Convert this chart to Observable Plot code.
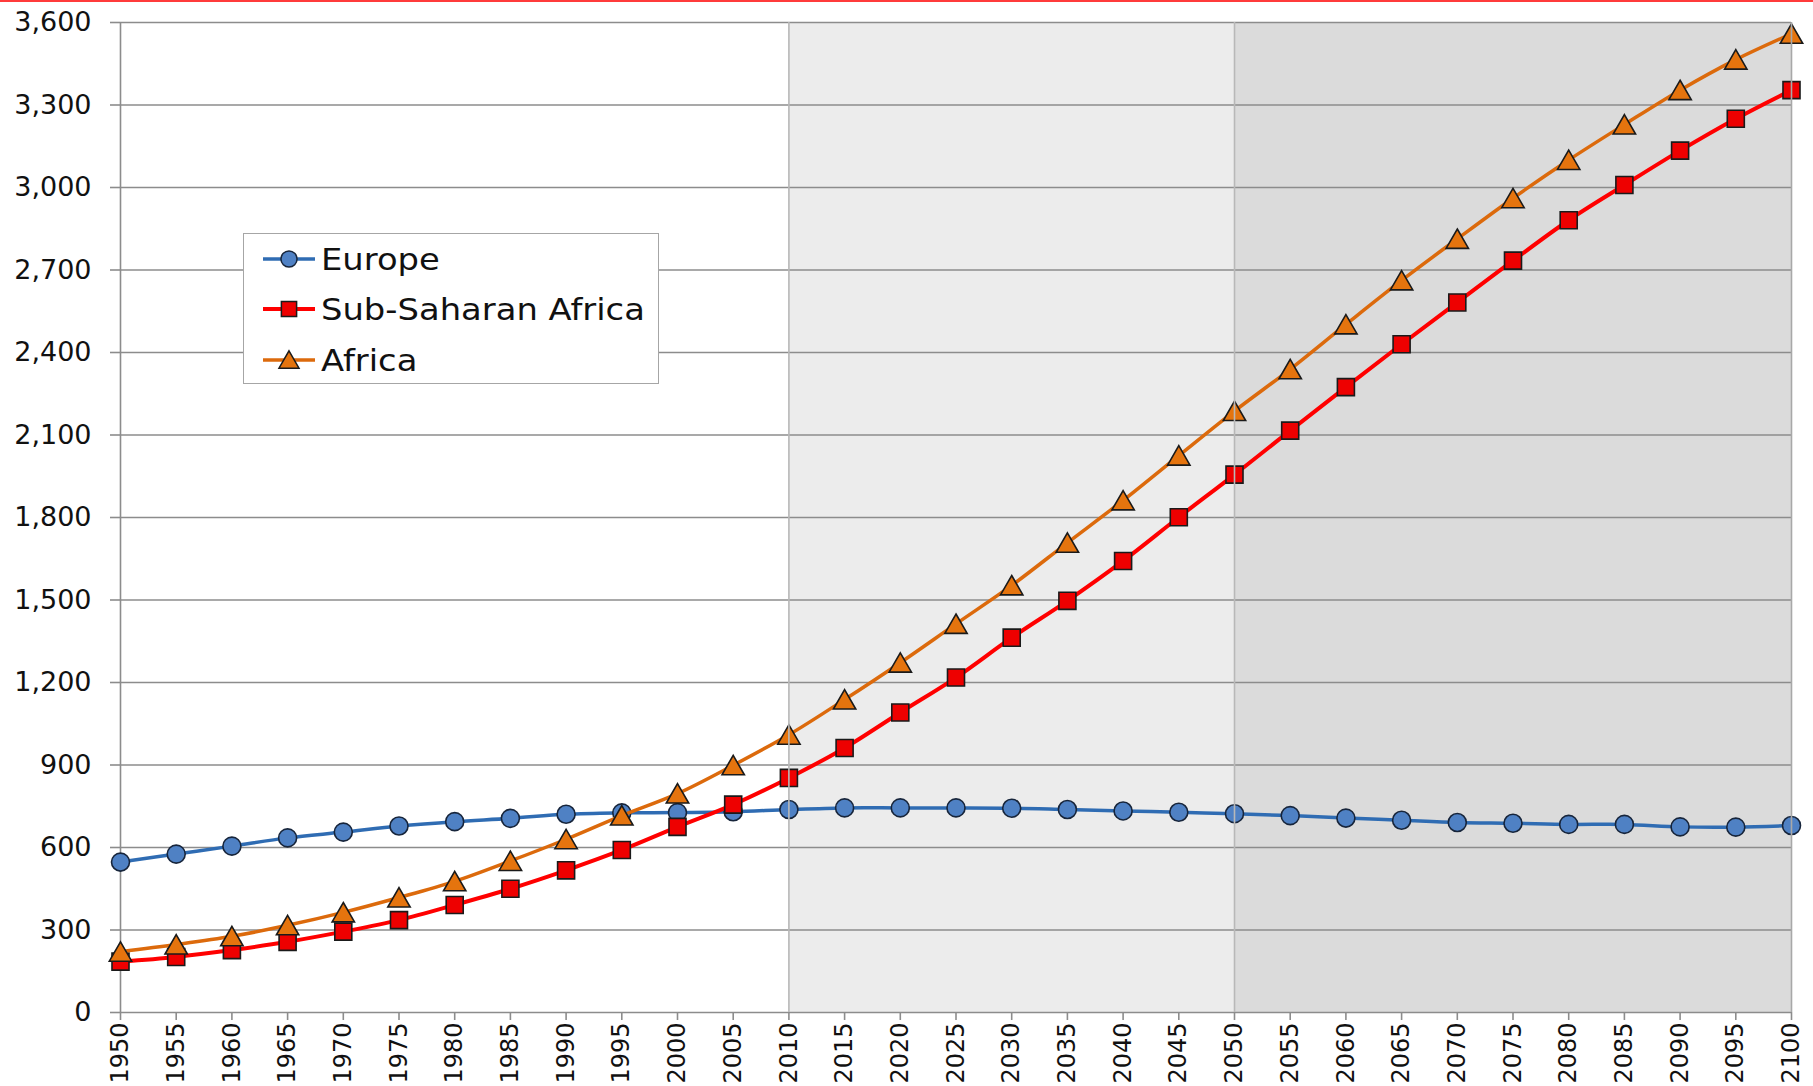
<!DOCTYPE html>
<html>
<head>
<meta charset="utf-8">
<script src="https://cdn.jsdelivr.net/npm/d3@7"></script>
<script src="https://cdn.jsdelivr.net/npm/@observablehq/plot@0.6"></script>
<style>
  html, body { margin: 0; padding: 0; background: #fff; }
  #wrap { position: relative; width: 1813px; height: 1086px; overflow: hidden; background: #fff; }
  #topline { position: absolute; left: 0; top: 0; width: 1813px; height: 2px; background: #ff3b3b; }
  #legend { position: absolute; left: 243px; top: 233px; width: 416px; height: 151px;
            border: 1.5px solid #a6a6a6; background: #fff; font-family: "DejaVu Sans", sans-serif;
            font-size: 31px; color: #111; box-sizing: border-box; }
  .lg-row { position: absolute; left: 0; height: 40px; display: flex; align-items: center; }
  .lg-row svg { display: block; margin-left: 17px; }
  .lg-row span { margin-left: 4px; white-space: nowrap; display: inline-block;
                 transform: scaleX(1.09); transform-origin: left center; }
</style>
</head>
<body>
<div id="wrap">
  <div id="chart"></div>
  <div id="legend"></div>
  <div id="topline"></div>
</div>
<script>
// ---- Data (millions) ----
const years = [1950,1955,1960,1965,1970,1975,1980,1985,1990,1995,2000,2005,2010,2015,2020,2025,2030,2035,2040,2045,2050,2055,2060,2065,2070,2075,2080,2085,2090,2095,2100];
const europe = [547,576,605,635,656,678,694,706,721,726,727,730,738,744,744,744,743,738,733,728,723,716,707,699,691,688,684,684,675,674,680];
const subSaharanAfrica = [185,202,227,257,294,336,391,450,517,591,675,756,853,962,1091,1218,1363,1497,1642,1801,1956,2116,2274,2430,2582,2734,2881,3009,3134,3250,3354];
const africa = [221,247,277,317,364,418,477,551,630,716,796,899,1010,1138,1272,1413,1553,1708,1862,2025,2187,2339,2502,2662,2813,2961,3100,3229,3354,3465,3559];
const seriesNames = ["Europe", "Sub-Saharan Africa", "Africa"];
const yTicks = [0,300,600,900,1200,1500,1800,2100,2400,2700,3000,3300,3600];
const xTicks = years;
const periods = [[2010, 2050], [2050, 2100]];

// ---- Styles ----
const styles = {
  "Europe":             {line: "#2f6cb3", fill: "#4f81c4", stroke: "#17253b", symbol: "circle",   r: 9,   lw: 3.5, dy: 0},
  "Sub-Saharan Africa": {line: "#ff0000", fill: "#ee0000", stroke: "#1a1a1a", symbol: "square",   r: 9.6, lw: 4,   dy: 0},
  "Africa":             {line: "#dc6a0c", fill: "#e5740e", stroke: "#1a1a1a", symbol: "triangle", r: 8.3, lw: 3.5, dy: 3}
};
const periodFill = ["#ececec", "#dbdbdb"];

const valuesBySeries = {"Europe": europe, "Sub-Saharan Africa": subSaharanAfrica, "Africa": africa};
const rows = seriesNames.flatMap(s => years.map((year, i) => ({year, value: valuesBySeries[s][i], series: s})));

const marks = [
  Plot.rect(periods, {x1: d => d[0], x2: d => d[1], fill: (d, i) => periodFill[i]}),
  Plot.ruleY(yTicks, {stroke: "#8c8c8c", strokeWidth: 1.6}),
  Plot.axisY(yTicks, {tickSize: 10, tickPadding: 19, tickFormat: d3.format(","), fontSize: 27,
                      stroke: "#8c8c8c", strokeWidth: 1.6, color: "#111", label: null}),
  Plot.axisX(xTicks, {tickSize: 8, tickPadding: 2, tickRotate: -90, tickFormat: d => String(d),
                      fontSize: 24, stroke: "#8c8c8c", strokeWidth: 1.6, color: "#111", label: null}),
  Plot.ruleX([years[0]], {stroke: "#8c8c8c", strokeWidth: 1.6})
];
for (const s of seriesNames) {
  const st = styles[s];
  const data = rows.filter(d => d.series === s);
  marks.push(Plot.line(data, {x: "year", y: "value", stroke: st.line, strokeWidth: st.lw, curve: "catmull-rom"}));
  marks.push(Plot.dot(data, {x: "year", y: "value", symbol: st.symbol, r: st.r, fill: st.fill,
                             stroke: st.stroke, strokeWidth: 1.6, dy: st.dy}));
}
marks.push(Plot.ruleX(periods.map(p => p[0]), {stroke: "#b8b8b8", strokeWidth: 1.6}));
marks.push(Plot.ruleX([years[years.length - 1]], {stroke: "#a8a8a8", strokeWidth: 1.6}));

const chart = Plot.plot({
  width: 1813,
  height: 1086,
  marginLeft: 120,
  marginRight: 22,
  marginTop: 22,
  marginBottom: 74,
  x: {domain: [years[0], years[years.length - 1]], axis: null},
  y: {domain: [yTicks[0], yTicks[yTicks.length - 1]], axis: null},
  style: {fontFamily: "DejaVu Sans, sans-serif", background: "white", overflow: "visible"},
  marks
});
document.getElementById("chart").appendChild(chart);

// ---- Legend ----
const legend = d3.select("#legend");
const rowTops = [5, 55, 106];
seriesNames.forEach((s, i) => {
  const st = styles[s];
  const row = legend.append("div").attr("class", "lg-row").style("top", rowTops[i] + "px");
  const svg = row.append("svg").attr("width", 56).attr("height", 40);
  svg.append("line").attr("x1", 2).attr("x2", 54).attr("y1", 20).attr("y2", 20)
     .attr("stroke", st.line).attr("stroke-width", st.lw);
  const symType = {circle: d3.symbolCircle, square: d3.symbolSquare, triangle: d3.symbolTriangle}[st.symbol];
  svg.append("path").attr("d", d3.symbol(symType, Math.PI * st.r * st.r * 0.8)())
     .attr("transform", `translate(28,${20 + st.dy * 0.8})`)
     .attr("fill", st.fill).attr("stroke", st.stroke).attr("stroke-width", 1.5);
  row.append("span").text(s);
});
</script>
</body>
</html>
